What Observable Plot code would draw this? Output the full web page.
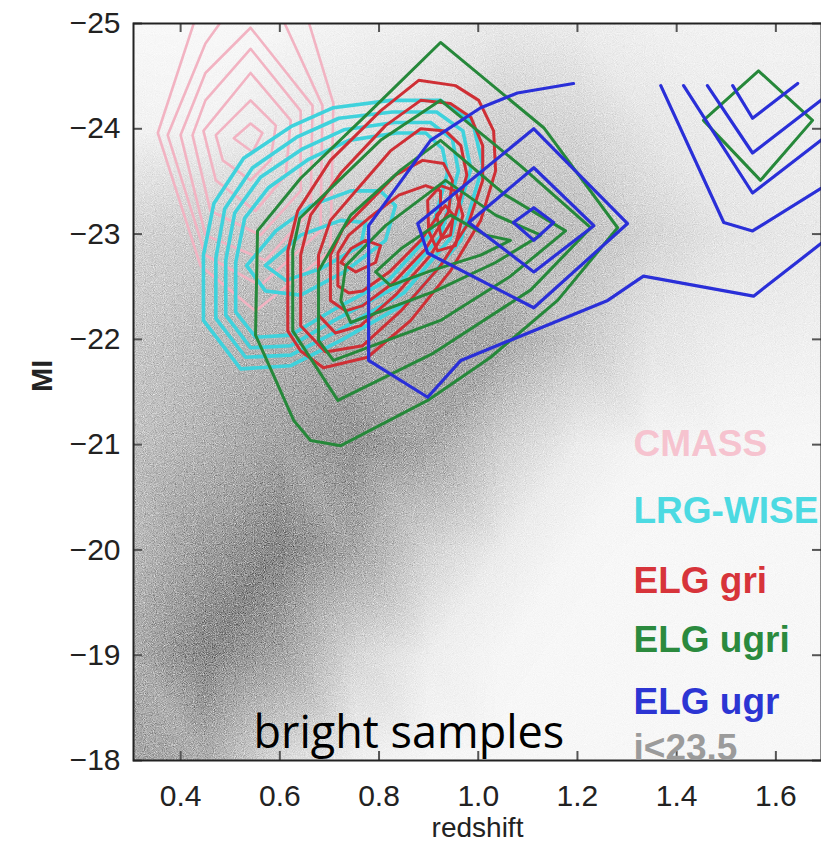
<!DOCTYPE html>
<html>
<head>
<meta charset="utf-8">
<script src="https://cdn.jsdelivr.net/npm/d3@7"></script>
<script src="https://cdn.jsdelivr.net/npm/@observablehq/plot@0.6"></script>
<style>
  html, body { margin: 0; padding: 0; background: #fff; }
  #chart { width: 821px; height: 850px; overflow: hidden; }
</style>
</head>
<body>
<div id="chart"></div>
<script>
// Axis ticks
const xTicks = [0.4, 0.6, 0.8, 1.0, 1.2, 1.4, 1.6];
const yTicks = [-25, -24, -23, -22, -21, -20, -19, -18];

// Photometric parent sample (i<23.5): grey density sampled on a coarse grid
// (lightness 0 = black, 255 = white), one row per MI value.
const densityZ = [0.30, 0.45, 0.60, 0.75, 0.90, 1.05, 1.20, 1.35, 1.50, 1.70];
const densityMI = [-18, -19, -20, -21, -22, -23, -24, -25];
const densityLightness = [
  [165, 175, 218, 240, 246, 247, 247, 247, 247, 247],
  [175, 140, 165, 215, 238, 246, 247, 247, 247, 247],
  [188, 160, 138, 168, 212, 236, 246, 247, 247, 247],
  [194, 180, 165, 150, 168, 210, 236, 245, 246, 247],
  [200, 190, 180, 175, 166, 170, 202, 228, 237, 240],
  [212, 206, 200, 195, 188, 186, 192, 214, 228, 233],
  [242, 243, 234, 228, 220, 208, 214, 230, 236, 238],
  [248, 248, 246, 242, 238, 232, 236, 240, 242, 242]
];

// Contour levels of each target sample, vertices as [redshift, MI]
const cmassRings = [
  [[0.507,-23.91],[0.541,-24.05],[0.565,-23.96],[0.545,-23.78]],
  [[0.471,-23.94],[0.541,-24.27],[0.592,-24.03],[0.581,-23.70],[0.541,-23.51],[0.485,-23.70]],
  [[0.446,-23.98],[0.541,-24.53],[0.622,-24.08],[0.612,-23.56],[0.551,-23.22],[0.471,-23.51]],
  [[0.424,-23.94],[0.450,-24.27],[0.541,-24.76],[0.642,-24.17],[0.642,-23.41],[0.561,-22.99],[0.460,-23.22]],
  [[0.400,-23.94],[0.450,-24.53],[0.541,-24.96],[0.666,-24.22],[0.662,-23.22],[0.571,-22.75],[0.450,-22.99]],
  [[0.374,-23.94],[0.450,-24.81],[0.491,-25.08],[0.602,-25.08],[0.686,-24.22],[0.682,-23.03],[0.561,-22.51],[0.450,-22.80]],
  [[0.354,-23.96],[0.432,-25.08],[0.654,-25.08],[0.708,-24.24],[0.702,-22.84],[0.551,-22.27],[0.440,-22.70]]
];

const lrgWiseRings = [
  [[0.446,-22.18],[0.446,-22.80],[0.467,-23.29],[0.527,-23.72],[0.622,-24.02],[0.708,-24.20],[0.823,-24.27],[0.924,-24.27],[0.989,-24.06],[1.009,-23.65],[0.965,-22.94],[0.864,-22.37],[0.723,-21.99],[0.622,-21.75],[0.521,-21.72]],
  [[0.471,-22.20],[0.471,-22.77],[0.489,-23.24],[0.545,-23.63],[0.634,-23.92],[0.719,-24.10],[0.827,-24.16],[0.916,-24.16],[0.969,-23.98],[0.985,-23.62],[0.944,-22.96],[0.850,-22.44],[0.717,-22.08],[0.622,-21.85],[0.531,-21.83]],
  [[0.491,-22.23],[0.491,-22.75],[0.509,-23.20],[0.561,-23.54],[0.646,-23.81],[0.729,-23.99],[0.831,-24.06],[0.904,-24.06],[0.948,-23.90],[0.960,-23.60],[0.924,-22.98],[0.835,-22.50],[0.710,-22.18],[0.622,-21.94],[0.541,-21.92]],
  [[0.511,-22.26],[0.511,-22.73],[0.529,-23.15],[0.577,-23.44],[0.658,-23.71],[0.739,-23.89],[0.835,-23.96],[0.894,-23.96],[0.928,-23.81],[0.938,-23.58],[0.904,-23.00],[0.821,-22.57],[0.704,-22.27],[0.622,-22.04],[0.551,-22.02]],
  [[0.533,-22.70],[0.592,-23.03],[0.662,-23.27],[0.743,-23.41],[0.803,-23.41],[0.833,-23.27],[0.813,-22.94],[0.733,-22.65],[0.642,-22.42],[0.571,-22.46]],
  [[0.571,-22.70],[0.642,-22.99],[0.723,-23.13],[0.773,-23.11],[0.763,-22.89],[0.682,-22.67],[0.612,-22.56]]
];

const elgGriRings = [
  [[0.616,-22.08],[0.616,-22.84],[0.636,-23.22],[0.702,-23.70],[0.803,-24.17],[0.880,-24.46],[0.954,-24.41],[1.001,-24.27],[1.031,-23.98],[1.035,-23.60],[1.005,-23.13],[0.944,-22.65],[0.864,-22.18],[0.777,-21.83],[0.688,-21.73],[0.642,-21.89]],
  [[0.642,-22.13],[0.642,-22.80],[0.662,-23.18],[0.723,-23.58],[0.813,-24.03],[0.884,-24.27],[0.944,-24.24],[0.985,-24.11],[1.009,-23.84],[1.009,-23.51],[0.981,-23.11],[0.924,-22.70],[0.844,-22.27],[0.767,-21.94],[0.692,-21.88]],
  [[0.678,-22.23],[0.678,-22.80],[0.702,-23.13],[0.753,-23.41],[0.823,-23.79],[0.884,-24.00],[0.934,-23.98],[0.965,-23.84],[0.977,-23.56],[0.954,-23.18],[0.904,-22.80],[0.833,-22.42],[0.763,-22.13],[0.712,-22.06]],
  [[0.702,-22.37],[0.702,-22.80],[0.727,-23.05],[0.773,-23.27],[0.833,-23.56],[0.888,-23.70],[0.930,-23.67],[0.948,-23.51],[0.940,-23.21],[0.894,-22.86],[0.827,-22.53],[0.767,-22.32],[0.733,-22.27]],
  [[0.717,-22.51],[0.717,-22.82],[0.739,-22.99],[0.779,-23.15],[0.840,-23.37],[0.894,-23.46],[0.924,-23.41],[0.924,-23.21],[0.884,-22.94],[0.823,-22.65],[0.767,-22.46],[0.739,-22.44]],
  [[0.723,-22.73],[0.743,-22.86],[0.773,-22.94],[0.803,-22.89],[0.793,-22.73],[0.753,-22.64]],
  [[0.898,-23.32],[0.924,-23.46],[0.954,-23.41],[0.969,-23.18],[0.954,-22.89],[0.918,-22.84],[0.900,-23.03]],
  [[0.916,-23.18],[0.934,-23.27],[0.950,-23.18],[0.944,-22.99],[0.926,-22.96]]
];

const elgUgriRings = [
  [[0.924,-24.82],[1.132,-24.01],[1.281,-23.06],[1.160,-22.37],[1.025,-21.83],[0.898,-21.42],[0.723,-20.99],[0.662,-21.04],[0.628,-21.23],[0.551,-22.04],[0.555,-23.03],[0.642,-23.53],[0.783,-24.17]],
  [[0.924,-24.27],[1.085,-23.65],[1.227,-23.06],[1.106,-22.47],[0.910,-21.87],[0.717,-21.42],[0.626,-22.08],[0.626,-22.84],[0.640,-23.15],[0.803,-23.89]],
  [[0.924,-23.89],[1.055,-23.37],[1.176,-23.03],[1.065,-22.60],[0.924,-22.18],[0.708,-21.80],[0.678,-21.99],[0.678,-22.65],[0.743,-23.18],[0.844,-23.61]],
  [[0.934,-23.51],[1.035,-23.18],[1.126,-22.99],[1.035,-22.73],[0.914,-22.46],[0.743,-22.16],[0.723,-22.37],[0.733,-22.70],[0.813,-23.08]],
  [[0.944,-23.18],[1.015,-22.99],[1.065,-22.94],[1.005,-22.80],[0.904,-22.65],[0.823,-22.51],[0.793,-22.64],[0.844,-22.86]],
  [[1.565,-24.55],[1.674,-24.08],[1.569,-23.51],[1.454,-24.08]]
];

const elgUgrRings = [
  [[1.112,-24.00],[1.301,-23.10],[1.112,-22.30],[0.898,-22.82],[0.878,-23.10]],
  [[1.112,-23.63],[1.233,-23.08],[1.112,-22.64],[0.981,-23.11]],
  [[1.112,-23.25],[1.152,-23.11],[1.112,-22.94],[1.071,-23.11]]
];
// open contour segments that run off the redshift/MI grid
const elgUgrPaths = [
  [[1.192,-24.43],[1.079,-24.34],[1.005,-24.20],[0.904,-23.89],[0.779,-23.08],[0.779,-21.80],[0.898,-21.45],[0.965,-21.80],[1.261,-22.37],[1.333,-22.60],[1.555,-22.41],[1.710,-22.98]],
  [[1.368,-24.41],[1.495,-23.11],[1.553,-23.03],[1.710,-23.49]],
  [[1.414,-24.41],[1.553,-23.39],[1.710,-23.96]],
  [[1.462,-24.41],[1.553,-23.77],[1.710,-24.34]],
  [[1.513,-24.41],[1.553,-24.10],[1.644,-24.43]]
];

// Legend
const legendNames = ["CMASS", "LRG-WISE", "ELG gri", "ELG ugri", "ELG ugr", "i<23.5"];
const legendColors = ["#f6c3cf", "#4cdae2", "#d7343a", "#2b8a3e", "#2c35d3", "#9b9b9b"];

// ---- tables built from the arrays above ----
const densityRows = densityMI.flatMap((mi, i) =>
  densityZ.map((z, j) => ({z, mi, v: densityLightness[i][j]})));

function toRows(rings, name) {
  return rings.flatMap((ring, k) => ring.map(([z, mi]) => ({z, mi, ring: `${name}-${k}`})));
}

const xDomain = [0.305, 1.692];
const yDomain = [-18, -25];
const tickZ = 9 / 496;   // 9px inward ticks, in data units
const tickM = 9 / 105.3;

const contour = (rings, name, stroke, strokeWidth, closed = true) =>
  Plot.line(toRows(rings, name), {
    x: "z", y: "mi", z: "ring", stroke, strokeWidth,
    curve: closed ? "linear-closed" : "linear",
    strokeLinejoin: "round", clip: true
  });

const legendDy = [406, 473, 543, 602, 664, 710];

const chart = Plot.plot({
  width: 821,
  height: 850,
  marginLeft: 133,
  marginRight: 0,
  marginTop: 23,
  marginBottom: 90,
  style: {fontFamily: "'Liberation Sans', Arial, Helvetica, sans-serif", background: "#fff", overflow: "hidden"},
  x: {domain: xDomain, axis: null},
  y: {domain: yDomain, axis: null},
  color: {type: "linear", domain: [0, 255], range: ["#000", "#fff"]},
  marks: [
    Plot.raster(densityRows, {x: "z", y: "mi", fill: "v", interpolate: "barycentric", clip: true}),
    contour(cmassRings, "cmass", "#f2b3c2", 2.6),
    contour(lrgWiseRings, "lrg", "#3fd2dc", 3.6),
    contour(elgGriRings, "gri", "#cf2f35", 3),
    contour(elgUgriRings, "ugri", "#26883a", 3),
    contour(elgUgrRings, "ugr", "#2a2fd8", 3.2),
    contour(elgUgrPaths, "ugr-open", "#2a2fd8", 3.2, false),
    // inward ticks on all four sides
    Plot.ruleX(xTicks, {x: d => d, y1: yDomain[0], y2: yDomain[0] - tickM, stroke: "#555", strokeWidth: 2}),
    Plot.ruleX(xTicks, {x: d => d, y1: yDomain[1], y2: yDomain[1] + tickM, stroke: "#555", strokeWidth: 2}),
    Plot.ruleY(yTicks, {y: d => d, x1: xDomain[0], x2: xDomain[0] + tickZ, stroke: "#555", strokeWidth: 2}),
    Plot.ruleY(yTicks, {y: d => d, x1: xDomain[1], x2: xDomain[1] - tickZ, stroke: "#555", strokeWidth: 2}),
    Plot.frame({stroke: "#222", strokeWidth: 2}),
    Plot.axisX({ticks: xTicks, anchor: "bottom", tickSize: 0, tickPadding: 24, fontSize: 30, label: null, tickFormat: d3.format(".1f"), fill: "#222"}),
    Plot.axisY({ticks: yTicks, anchor: "left", tickSize: 0, tickPadding: 13, fontSize: 30, label: null, tickFormat: d3.format("d"), fill: "#222"}),
    Plot.text(["redshift"], {frameAnchor: "bottom", dy: 76, fontSize: 28, fill: "#222"}),
    Plot.text(["MI"], {frameAnchor: "left", dx: -91, rotate: -90, fontSize: 29, fontWeight: "bold", fill: "#222"}),
    Plot.text(["bright samples"], {frameAnchor: "top-left", dx: 120, dy: 693, textAnchor: "start",
      fontSize: 45, fontFamily: "'Open Sans', Lato, sans-serif", fill: "#000"}),
    ...legendNames.map((name, i) => Plot.text([name], {
      frameAnchor: "top-left", dx: 500, dy: legendDy[i], textAnchor: "start",
      fontSize: 37, fontWeight: "bold", fill: legendColors[i]
    }))
  ]
});

// Fine grain over the grey density, stronger where the cloud is denser
const svg = d3.select(chart);
svg.insert("defs", ":first-child").html(`
  <filter id="grain" x="0" y="0" width="100%" height="100%" color-interpolation-filters="sRGB">
    <feTurbulence type="fractalNoise" baseFrequency="1.1" numOctaves="1" seed="7" result="noise"/>
    <feColorMatrix in="noise" type="matrix"
      values="0.33 0.33 0.33 0 0  0.33 0.33 0.33 0 0  0.33 0.33 0.33 0 0  0 0 0 0 1" result="grey"/>
    <feComposite in="SourceGraphic" in2="grey" operator="arithmetic" k1="-3.4" k2="2.7" k3="3.4" k4="-1.7"/>
  </filter>`);
svg.selectAll('g[aria-label="raster"]').attr("filter", "url(#grain)");

document.getElementById("chart").appendChild(chart);
</script>
</body>
</html>
